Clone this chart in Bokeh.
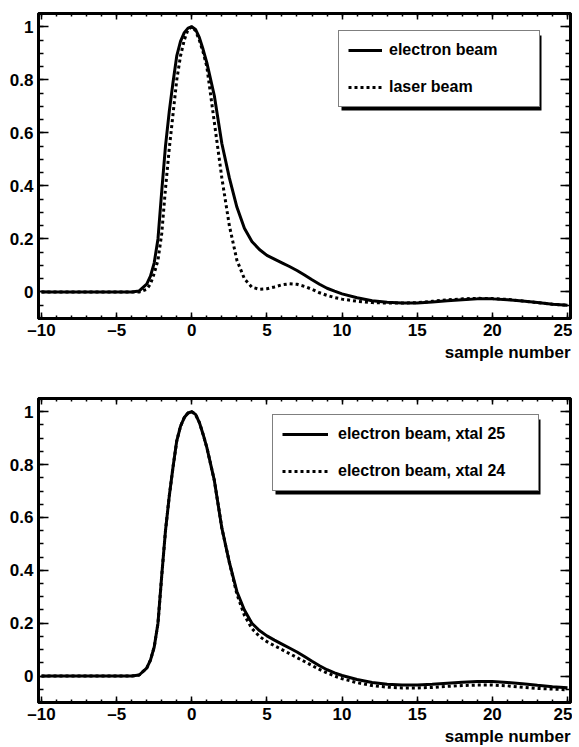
from bokeh.plotting import figure
from bokeh.models import (FixedTicker, LinearAxis, Legend, LegendItem, BoxAnnotation,
                          Title, Range1d, CustomJSTickFormatter, CustomLabelingPolicy)
from bokeh.layouts import column
from bokeh.embed import file_html
from bokeh.resources import INLINE

# ---------------- data ----------------
sample = [-10, -8, -6, -4.5, -4, -3.5, -3, -2.75, -2.5, -2.25, -2, -1.75, -1.5, -1.25, -1,
          -0.75, -0.5, -0.25, 0, 0.25, 0.5, 0.75, 1, 1.5, 2, 2.5, 3, 3.5, 4, 4.5, 5, 5.5,
          6, 6.5, 7, 7.5, 8, 8.5, 9, 9.5, 10, 11, 12, 13, 14, 15, 16, 17, 18, 19, 20,
          21, 22, 23, 24, 25]

electron_beam = [0, 0, 0, 0, 0.0, 0.004, 0.03, 0.06, 0.11, 0.20, 0.38, 0.55, 0.68, 0.79, 0.89,
                 0.945, 0.978, 0.995, 1.0, 0.99, 0.96, 0.915, 0.865, 0.74, 0.56, 0.43, 0.32,
                 0.24, 0.19, 0.16, 0.138, 0.124, 0.11, 0.096, 0.081, 0.064, 0.046, 0.029, 0.014,
                 0.003, -0.007, -0.022, -0.033, -0.039, -0.042, -0.042, -0.038, -0.033, -0.029,
                 -0.026, -0.026, -0.029, -0.034, -0.040, -0.046, -0.050]

laser_beam = [0, 0, 0, 0, 0.0, 0.0, 0.01, 0.03, 0.07, 0.12, 0.22, 0.39, 0.54, 0.67, 0.80,
              0.89, 0.95, 0.99, 1.0, 0.985, 0.95, 0.905, 0.85, 0.64, 0.43, 0.25, 0.12,
              0.05, 0.018, 0.01, 0.012, 0.019, 0.027, 0.031, 0.029, 0.021, 0.01, -0.003, -0.013,
              -0.021, -0.027, -0.035, -0.040, -0.042, -0.042, -0.040, -0.035, -0.030, -0.026,
              -0.024, -0.025, -0.028, -0.034, -0.040, -0.046, -0.050]

xtal25 = [0, 0, 0, 0, 0.0, 0.004, 0.03, 0.06, 0.11, 0.20, 0.38, 0.55, 0.68, 0.79, 0.89,
          0.945, 0.978, 0.995, 1.0, 0.99, 0.96, 0.915, 0.865, 0.74, 0.56, 0.43, 0.32,
          0.25, 0.20, 0.172, 0.152, 0.136, 0.121, 0.106, 0.091, 0.074, 0.056, 0.039, 0.024,
          0.012, 0.002, -0.013, -0.024, -0.031, -0.034, -0.034, -0.031, -0.027, -0.023,
          -0.021, -0.021, -0.024, -0.029, -0.035, -0.040, -0.044]

xtal24 = [0, 0, 0, 0, 0.0, 0.004, 0.03, 0.06, 0.11, 0.20, 0.38, 0.55, 0.68, 0.79, 0.89,
          0.945, 0.978, 0.995, 1.0, 0.99, 0.96, 0.915, 0.865, 0.74, 0.56, 0.43, 0.31,
          0.23, 0.18, 0.15, 0.13, 0.115, 0.10, 0.085, 0.07, 0.055, 0.04, 0.025, 0.012,
          0.0, -0.01, -0.025, -0.036, -0.042, -0.045, -0.045, -0.043, -0.039, -0.036,
          -0.034, -0.034, -0.037, -0.042, -0.047, -0.049, -0.052]

x_ticks = [-10, -5, 0, 5, 10, 15, 20, 25]
x_tick_labels = ["\u201310", "\u20135", "0", "5", "10", "15", "20", "25"]
y_ticks = [0, 0.2, 0.4, 0.6, 0.8, 1.0]
y_tick_labels = ["0", "0.2", "0.4", "0.6", "0.8", "1"]
x_minor = list(range(-10, 26))
y_minor = [round(-0.1 + 0.05 * i, 2) for i in range(24)]

x_title = "sample number"
top_names = ["electron beam", "laser beam"]
bottom_names = ["electron beam, xtal 25", "electron beam, xtal 24"]

FONT = "Liberation Sans"
W = 572
BL, BR = 38, 2


def fmt(tv, tl):
    return CustomJSTickFormatter(args=dict(tvals=tv, tlabs=tl),
                                 code="const i = tvals.indexOf(tick); return i >= 0 ? tlabs[i] : '';")


def style_axis(ax, tin, tmin, show, standoff):
    ax.axis_line_width = 3
    ax.axis_line_color = "black"
    ax.major_tick_in = tin
    ax.major_tick_out = 0
    ax.minor_tick_in = tmin
    ax.minor_tick_out = 0
    ax.major_tick_line_width = 1.5
    ax.minor_tick_line_width = 1.5
    ax.major_tick_line_color = "black"
    ax.minor_tick_line_color = "black"
    ax.major_label_text_font = FONT
    ax.major_label_text_font_style = "bold"
    ax.major_label_text_font_size = "17px"
    ax.major_label_text_color = "black"
    if show:
        ax.major_label_standoff = standoff
    else:
        ax.major_label_standoff = 0
        ax.major_label_policy = CustomLabelingPolicy(
            code="for (const i of Array.from(indices)) { indices.unset(i) }; return indices")


def panel(h, btop, bbot, ys, names, lgeom):
    p = figure(width=W, height=h, x_range=Range1d(-10.2, 25.2), y_range=Range1d(-0.1, 1.05),
               output_backend="svg", toolbar_location=None,
               x_axis_location=None, y_axis_location=None,
               min_border_left=BL, min_border_right=BR,
               min_border_top=btop, min_border_bottom=bbot)
    p.grid.grid_line_color = None
    p.outline_line_color = "black"
    p.outline_line_width = 3
    p.background_fill_color = "white"
    p.border_fill_color = "white"

    for place in ("below", "above"):
        ax = LinearAxis(ticker=FixedTicker(ticks=x_ticks, minor_ticks=x_minor),
                        formatter=fmt(x_ticks, x_tick_labels if place == "below" else [""] * len(x_ticks)))
        style_axis(ax, 6, 3, place == "below", 2)
        p.add_layout(ax, place)
    for place in ("left", "right"):
        ax = LinearAxis(ticker=FixedTicker(ticks=y_ticks, minor_ticks=y_minor),
                        formatter=fmt(y_ticks, y_tick_labels if place == "left" else [""] * len(y_ticks)))
        style_axis(ax, 10, 5, place == "left", 5)
        p.add_layout(ax, place)

    p.add_layout(Title(text=x_title, align="right", vertical_align="top", text_font=FONT,
                       text_font_style="bold", text_font_size="17px", text_color="black",
                       standoff=0), "below")

    r1 = p.line(sample, ys[0], line_color="black", line_width=3)
    r2 = p.line(sample, ys[1], line_color="black", line_width=3, line_dash="3 3")

    lx, ly, lw, lh, gw, st, labw = lgeom
    shadow = BoxAnnotation(left=lx + 3, right=lx + lw + 3, bottom=ly - 3, top=ly + lh - 3,
                           left_units="screen", right_units="screen",
                           top_units="screen", bottom_units="screen",
                           fill_color="black", fill_alpha=1.0, line_color=None)
    p.add_layout(shadow)
    legend = Legend(items=[LegendItem(label=names[0], renderers=[r1]),
                           LegendItem(label=names[1], renderers=[r2])],
                    location=(lx, ly), margin=0, padding=9, spacing=17,
                    glyph_width=gw, glyph_height=20, label_height=20,
                    label_width=labw, label_standoff=st,
                    label_text_font=FONT, label_text_font_style="bold",
                    label_text_font_size="16px", label_text_color="black",
                    border_line_color="black", border_line_width=1,
                    background_fill_color="white", background_fill_alpha=1.0)
    p.add_layout(legend)
    return p


p1 = panel(388, 13, 70, [electron_beam, laser_beam], top_names,
           (300, 211, 200, 75, 34, 7, 141))
p2 = panel(359, 10, 44, [xtal25, xtal24], bottom_names,
           (234, 211, 265, 75, 46, 10, 191))

layout = column(p1, p2, spacing=0)
open("out.html", "w").write(file_html(layout, INLINE))
